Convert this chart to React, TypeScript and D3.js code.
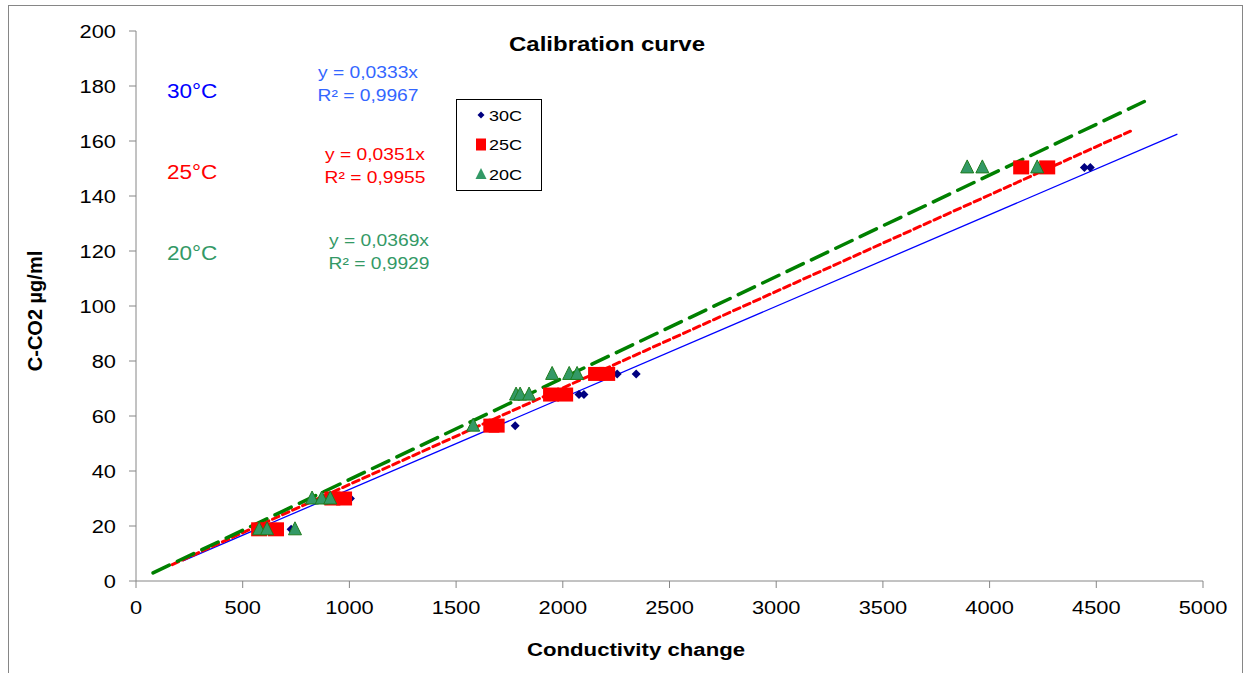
import React from "react";
import * as d3 from "d3";

const x30 = [640, 727, 975, 1005, 1777, 2076, 2099, 2255, 2344, 4444, 4472];
const y30 = [18.8, 18.8, 30, 30, 56.5, 67.8, 67.8, 75.3, 75.3, 150.4, 150.4];
const x25 = [577, 656, 920, 975, 1665, 1690, 1945, 2011, 2156, 2208, 4148, 4270];
const y25 = [18.8, 18.8, 30, 30, 56.5, 56.5, 67.8, 67.8, 75.3, 75.3, 150.4, 150.4];
const x20 = [577, 614, 745, 825, 870, 910, 1580, 1781, 1800, 1842, 1950, 2030, 2067, 3895, 3966, 4223];
const y20 = [18.8, 18.8, 18.8, 30, 30, 30, 56.5, 67.8, 67.8, 67.8, 75.3, 75.3, 75.3, 150.4, 150.4, 150.4];

const slopes = [0.0333, 0.0351, 0.0369];
const trendStart = [220, 170, 80];
const trendEnd = [4880, 4660, 4725];
const seriesNames = ["30C", "25C", "20C"];
const tempLabels = ["30°C", "25°C", "20°C"];
const eqLabels = ["y = 0,0333x", "y = 0,0351x", "y = 0,0369x"];
const r2Labels = ["R² = 0,9967", "R² = 0,9955", "R² = 0,9929"];

const xTicks = d3.range(0, 5001, 500);
const yTicks = d3.range(0, 201, 20);

const FONT = "'Liberation Sans', Arial, sans-serif";

function T(props: {
  x: number;
  y: number;
  sx?: number;
  size: number;
  anchor?: string;
  fill?: string;
  bold?: boolean;
  children: React.ReactNode;
}) {
  const { x, y, sx = 1.18, size, anchor = "start", fill = "#000", bold, children } = props;
  return (
    <text
      transform={`translate(${x},${y}) scale(${sx},1)`}
      textAnchor={anchor}
      fontSize={size}
      fill={fill}
      fontWeight={bold ? "bold" : "normal"}
    >
      {children}
    </text>
  );
}

export default function App() {
  const x = d3.scaleLinear().domain([0, 5000]).range([136, 1203]);
  const y = d3.scaleLinear().domain([0, 200]).range([581, 31]);

  const trendColors = ["#0000FF", "#FF0000", "#008000"];
  const trendDash = [undefined, "7 4", "18 9"];
  const trendWidth = [1.3, 3, 3.5];
  const tempColors = ["#0000FF", "#FF0000", "#339966"];
  const eqColors = ["#3366FF", "#FF0000", "#339966"];
  const tempY = [98, 179, 260];
  const eqX = [368, 375, 379];
  const eqY = [78, 160, 246];

  const diamond = "M0,-4.5 L4.5,0 L0,4.5 L-4.5,0 Z";
  const triangle = "M0,-7.5 L6.5,5.5 L-6.5,5.5 Z";

  return (
    <svg
      width={1248}
      height={673}
      style={{ position: "absolute", left: 0, top: 0, background: "#fff" }}
      fontFamily={FONT}
    >
      <rect x={8.5} y={5.5} width={1234} height={700} fill="#fff" stroke="#868686" strokeWidth={1} />

      {/* axes */}
      <line x1={136} x2={136} y1={31} y2={581} stroke="#868686" strokeWidth={1} />
      <line x1={136} x2={1203} y1={581} y2={581} stroke="#868686" strokeWidth={1} />
      {yTicks.map((t) => (
        <g key={"y" + t}>
          <line x1={129} x2={136} y1={y(t)} y2={y(t)} stroke="#868686" />
          <T x={116} y={y(t) + 6.5} size={18.5} anchor="end">
            {t}
          </T>
        </g>
      ))}
      {xTicks.map((t) => (
        <g key={"x" + t}>
          <line x1={x(t)} x2={x(t)} y1={581} y2={588} stroke="#868686" />
          <T x={x(t)} y={614} size={18.5} anchor="middle">
            {t}
          </T>
        </g>
      ))}

      {/* trendlines */}
      {slopes.map((s, i) => (
        <line
          key={"tr" + i}
          x1={x(trendStart[i])}
          y1={y(s * trendStart[i])}
          x2={x(trendEnd[i])}
          y2={y(s * trendEnd[i])}
          stroke={trendColors[i]}
          strokeWidth={trendWidth[i]}
          strokeDasharray={trendDash[i]}
          strokeLinecap={i === 0 ? "butt" : "round"}
        />
      ))}

      {/* markers */}
      {x30.map((v, i) => (
        <path key={"d" + i} d={diamond} transform={`translate(${x(v)},${y(y30[i])})`} fill="#000080" />
      ))}
      {x25.map((v, i) => (
        <rect key={"s" + i} x={x(v) - 8} y={y(y25[i]) - 7} width={16} height={14} fill="#FF0000" />
      ))}
      {x20.map((v, i) => (
        <path
          key={"t" + i}
          d={triangle}
          transform={`translate(${x(v)},${y(y20[i])})`}
          fill="#339966"
          stroke="#1E7D1E"
          strokeWidth={1}
        />
      ))}

      {/* title and axis titles */}
      <T x={607} y={51} size={20} sx={1.2} anchor="middle" bold>
        Calibration curve
      </T>
      <T x={636} y={656} size={18.5} sx={1.2} anchor="middle" bold>
        Conductivity change
      </T>
      <text
        transform="translate(42,311) rotate(-90)"
        textAnchor="middle"
        fontSize={20}
        fontWeight="bold"
      >
        C-CO2 µg/ml
      </text>

      {/* annotations */}
      {tempLabels.map((t, i) => (
        <T key={"tl" + i} x={167} y={tempY[i]} size={20.5} sx={1.1} fill={tempColors[i]}>
          {t}
        </T>
      ))}
      {eqLabels.map((t, i) => (
        <g key={"eq" + i}>
          <T x={eqX[i]} y={eqY[i]} size={16.3} anchor="middle" fill={eqColors[i]}>
            {t}
          </T>
          <T x={eqX[i]} y={eqY[i] + 23} size={16.3} anchor="middle" fill={eqColors[i]}>
            {r2Labels[i]}
          </T>
        </g>
      ))}

      {/* legend */}
      <rect x={456.5} y={99.5} width={85} height={91} fill="#fff" stroke="#000" strokeWidth={1} />
      {seriesNames.map((n, i) => {
        const cy = 115 + i * 29.5;
        return (
          <g key={"lg" + i}>
            {i === 0 && (
              <path d="M0,-3.5 L3.5,0 L0,3.5 L-3.5,0 Z" transform={`translate(481,${cy})`} fill="#000080" />
            )}
            {i === 1 && <rect x={476} y={cy - 6} width={10} height={12} fill="#FF0000" />}
            {i === 2 && <path d="M0,-6 L5.5,5 L-5.5,5 Z" transform={`translate(481,${cy})`} fill="#339966" />}
            <T x={489} y={cy + 5.5} size={15} sx={1.2}>
              {n}
            </T>
          </g>
        );
      })}
    </svg>
  );
}
